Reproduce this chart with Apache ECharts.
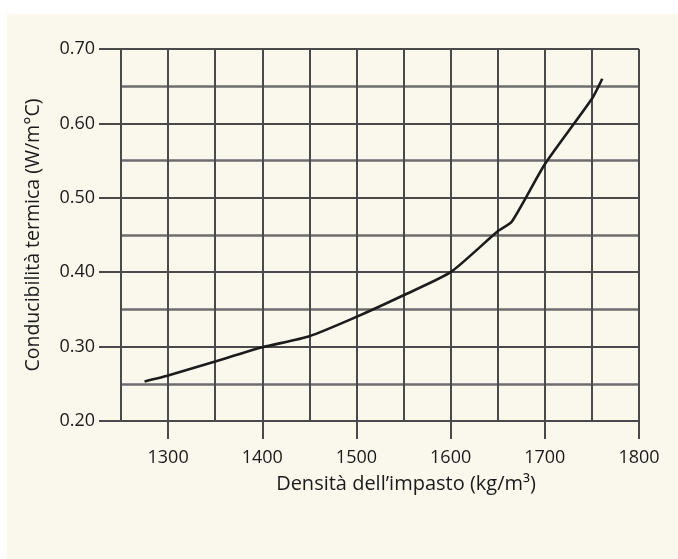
<!DOCTYPE html>
<html>
<head>
<meta charset="utf-8">
<script src="https://cdn.jsdelivr.net/npm/echarts@6/dist/echarts.min.js"></script>
<style>
  html, body { margin: 0; padding: 0; background: #fff; }
  #chart { width: 678px; height: 559px; }
</style>
</head>
<body>
<div id="chart"></div>
<script>
// densità (kg/m3) e conducibilità (W/m°C)
var densita = [1275, 1300, 1350, 1400, 1450, 1500, 1550, 1600, 1650, 1665, 1700, 1750, 1761];
var conducibilita = [0.253, 0.261, 0.280, 0.299, 0.314, 0.340, 0.369, 0.400, 0.455, 0.468, 0.545, 0.633, 0.660];
var xTicks = [1300, 1400, 1500, 1600, 1700, 1800];
var yTicks = [0.2, 0.3, 0.4, 0.5, 0.6, 0.7];

var gridColor = '#4a4a4a';
var font = 'Open Sans';

var myChart = echarts.init(document.getElementById('chart'));

var curve = [];
for (var i = 0; i < densita.length; i++) {
    curve.push([densita[i], conducibilita[i]]);
}

option = {
    backgroundColor: '#ffffff',
    animation: false,
    graphic: [{
        type: 'rect',
        z: -10,
        shape: {x: 7, y: 14, width: 671, height: 545},
        style: {fill: '#faf7ec'}
    }],
    grid: {
        left: 121,
        right: 39,
        top: 49,
        bottom: 138
    },
    xAxis: [{
        type: 'value',
        min: 1250,
        max: 1800,
        interval: 50,
        name: 'Densità dell’impasto (kg/m³)',
        nameLocation: 'middle',
        nameGap: 53,
        nameTextStyle: {fontFamily: font, fontSize: 20, color: '#1a1a1a',
            padding: [0, 0, 0, 52]},
        axisLine: {show: true, lineStyle: {color: gridColor, width: 2}},
        axisTick: {show: true, length: 18, customValues: xTicks,
            lineStyle: {color: gridColor, width: 2}},
        axisLabel: {customValues: xTicks, margin: 28,
            fontFamily: font, fontSize: 18, color: '#1a1a1a',
            formatter: function (v) { return String(v); }},
        splitLine: {show: false}
    }, {
        // solo la griglia verticale ogni 50
        type: 'value',
        position: 'bottom',
        min: 1250,
        max: 1800,
        interval: 50,
        axisLine: {show: false},
        axisTick: {show: false},
        axisLabel: {show: false},
        splitLine: {show: true, lineStyle: {color: gridColor, width: 2}}
    }],
    yAxis: {
        type: 'value',
        min: 0.2,
        max: 0.7,
        interval: 0.1,
        name: 'Conducibilità termica (W/m°C)',
        nameLocation: 'middle',
        nameRotate: 90,
        nameGap: 78,
        nameTextStyle: {fontFamily: font, fontSize: 19.5, color: '#1a1a1a'},
        axisLine: {show: true, lineStyle: {color: gridColor, width: 2}},
        axisTick: {show: true, length: 22, customValues: yTicks,
            lineStyle: {color: gridColor, width: 2}},
        axisLabel: {customValues: yTicks, margin: 26,
            fontFamily: font, fontSize: 18, color: '#1a1a1a',
            formatter: function (v) { return v.toFixed(2); }},
        splitLine: {show: true, lineStyle: {color: gridColor, width: 2}},
        minorTick: {show: false, splitNumber: 2},
        minorSplitLine: {show: true, lineStyle: {color: '#6e6e6e', width: 2.5}}
    },
    series: [{
        type: 'line',
        xAxisIndex: 0,
        data: curve,
        smooth: 0.2,
        showSymbol: false,
        lineStyle: {color: '#1c1c1c', width: 2.6},
        z: 5
    }]
};

myChart.setOption(option);
</script>
</body>
</html>
